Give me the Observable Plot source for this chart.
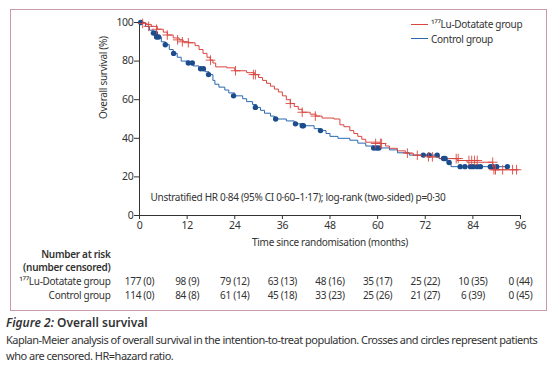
<!DOCTYPE html>
<html>
<head>
<meta charset="utf-8">
<script src="https://cdn.jsdelivr.net/npm/d3@7"></script>
<script src="https://cdn.jsdelivr.net/npm/@observablehq/plot@0.6"></script>
<style>
  body { margin: 0; background: #fff; font-family: "Noto Sans", sans-serif; color: #333; }
  #wrap { position: relative; width: 556px; height: 367px; }
  #frame { position: absolute; left: 10px; top: 9px; width: 537px; height: 302px; border: 1.3px solid #c89aaa; box-sizing: border-box; }
  #legend { position: absolute; left: 411px; top: 17px; font-size: 10px; letter-spacing: -0.3px; line-height: 14.5px; color: #333; }
  #legend .row { display: flex; align-items: center; }
  #legend .sw { width: 17px; height: 0; border-top: 1.2px solid; margin-right: 3px; }
  #caption { position: absolute; left: 6px; top: 315px; font-size: 11px; letter-spacing: -0.5px; line-height: 16.5px; color: #333; white-space: nowrap; }
  #caption .t { font-weight: 600; font-size: 12px; letter-spacing: 0; }
</style>
</head>
<body>
<div id="wrap">
  <div id="chart"></div>
  <div id="frame"></div>
  <div id="legend">
    <div class="row"><span class="sw" style="border-color:#d9463f"></span>¹⁷⁷Lu-Dotatate group</div>
    <div class="row"><span class="sw" style="border-color:#2a68b0"></span>Control group</div>
  </div>
  <div id="caption">
    <div class="t"><i>Figure 2:</i> Overall survival</div>
    <div>Kaplan-Meier analysis of overall survival in the intention-to-treat population. Crosses and circles represent patients</div>
    <div>who are censored. HR=hazard ratio.</div>
  </div>
</div>
<script>
// Kaplan-Meier step curves (months, % surviving)
const luTime = [0,1.5,3,4.5,6,7,8.5,10,11,12.5,14,15,16,17,17.8,18.5,19.2,22,24,27,29,30,31,32,33,34,35,36,37,38,39,40,41,43,44.5,46,49,50.5,51.5,53,54,55,56,57,60.5,62,63,65,67,69,73,75.5,80,82.5,89,95.5];
const luSurv = [100,99,98,96.5,95,93.5,92,91,90,89.5,88,86,84,82,80.5,79,77,76.5,75,74,73,71.5,70,68.5,67,65.5,64,62,60,58,56.5,55,53.5,52.5,51.5,50.5,50,47,46,44,42.5,41,39.5,38,37.3,36,34.8,33.5,32.3,31.2,30.4,29.5,28.5,27.6,23.7,23.7];
const ctlTime = [0,1.5,2.5,3.5,4.5,5.5,6.5,7.5,8.5,9.5,10.5,12.5,13.5,15,16.5,17.5,18.5,19,20,21.5,22.5,24,26,27,28.5,29.5,30.5,31.5,33,34,37,39,41,44,45.5,47,48,50,53,55,57,59,63,65,68,75.5,77.5,78.5,93];
const ctlSurv = [100,98,96,94.5,92.5,90,88.5,86,84,82,80,79,77.5,76,74.5,73,70,68,66.5,65,63.5,62,60.5,59,57.5,56,54.5,53,51.5,50,49,47.5,46.5,45,44,42.5,41,40,39,37.5,36,35,34,32.5,31.3,29.5,27.5,25.3,25.3];
// censored patients
const luCensT = [0.8,2.3,4.3,7,9.6,10.8,12.3,17.9,24.2,28.7,29.2,38,41,44.3,59.5,60.7,61,67.5,70,72.8,73.8,79.8,80.3,83,83.7,84.4,85.1,89,89.3,89.7,91.5,94,95];
const luCensS = [99.5,98,96.5,93.5,91,90,89.5,80.5,75,73,73,58,53.5,51.5,37.3,37.3,37.3,32.3,31.2,30.4,30.4,29.5,29.5,28.5,28.5,28.5,28.5,27.6,23.7,23.7,23.7,23.7,23.7];
const ctlCensT = [0.3,3.5,4,4.3,4.8,6.5,8.6,12.3,13.3,15.4,16.1,17.4,23.7,29.2,34.3,39.3,41,41.3,45.6,59,59.7,60.3,71.5,73,75,76.6,77,78,80.8,82,83.4,84.1,85.1,85.9,88.4,89,90,92.7];
const ctlCensS = [100,94.5,94.5,92.5,92.5,88.5,84,79,79,76,76,73,62,56,50,47.5,46.5,46.5,44,35,35,35,31.3,31.3,31.3,29.5,29.5,27.5,25.3,25.3,25.3,25.3,25.3,25.3,25.3,25.3,25.3,25.3];
// number at risk table
const riskTimes = [0,12,24,36,48,60,72,84,96];
const riskLu = ["177 (0)","98 (9)","79 (12)","63 (13)","48 (16)","35 (17)","25 (22)","10 (35)","0 (44)"];
const riskCtl = ["114 (0)","84 (8)","61 (14)","45 (18)","33 (23)","25 (26)","21 (27)","6 (39)","0 (45)"];
const xTicks = [0,12,24,36,48,60,72,84,96];
const yTicks = [0,20,40,60,80,100];

const RED = "#d9463f", BLUE = "#2a68b0", DOT = "#1d4c8c";

const lu = luTime.map((t,i)=>({t, s: luSurv[i]}));
const ctl = ctlTime.map((t,i)=>({t, s: ctlSurv[i]}));
const luC = luCensT.map((t,i)=>({t, s: luCensS[i]}));
const ctlC = ctlCensT.map((t,i)=>({t, s: ctlCensS[i]}));
const risk = riskTimes.map((t,i)=>({t, lu: riskLu[i], ctl: riskCtl[i]}));

const fs = 10;
const chart = Plot.plot({
  width: 556,
  height: 312,
  marginLeft: 139,
  marginRight: 36,
  marginTop: 22,
  marginBottom: 97,
  style: {fontFamily: "Noto Sans, sans-serif", fontSize: fs + "px", letterSpacing: "-0.3px", color: "#333", background: "transparent", overflow: "visible"},
  x: {domain: [0,96], ticks: xTicks, label: null},
  y: {domain: [0,100], ticks: yTicks, label: null},
  marks: [
    Plot.axisX({ticks: xTicks, tickSize: 4, tickPadding: 2, fontSize: 10.5, color: "#333"}),
    Plot.axisY({ticks: yTicks, tickSize: 5, tickPadding: 1, fontSize: 10.5, color: "#333"}),
    Plot.ruleX([0], {stroke: "#333", strokeWidth: 1}),
    Plot.ruleY([0], {stroke: "#333", strokeWidth: 1}),
    Plot.line(ctl, {x: "t", y: "s", curve: "step-after", stroke: BLUE, strokeWidth: 1}),
    Plot.line(lu, {x: "t", y: "s", curve: "step-after", stroke: RED, strokeWidth: 1}),
    Plot.dot(ctlC, {x: "t", y: "s", r: 2.7, fill: DOT, stroke: "none"}),
    Plot.dot(luC, {x: "t", y: "s", symbol: "plus", r: 3.2, stroke: RED, strokeWidth: 0.9}),
    Plot.text(["Unstratified HR 0·84 (95% CI 0·60–1·17); log-rank (two-sided) p=0·30"], {frameAnchor: "bottom-left", dx: 11, dy: -15, textAnchor: "start", fontSize: fs, fill: "#333"}),
    Plot.text(["Time since randomisation (months)"], {frameAnchor: "bottom", dy: 30, fontSize: fs, fill: "#333"}),
    Plot.text(["Overall survival (%)"], {frameAnchor: "left", dx: -36, rotate: -90, fontSize: fs, fill: "#333"}),
    Plot.text(["Number at risk"], {frameAnchor: "bottom-left", dx: -29, dy: 42, textAnchor: "end", fontWeight: 600, fontSize: fs, fill: "#333"}),
    Plot.text(["(number censored)"], {frameAnchor: "bottom-left", dx: -29, dy: 55, textAnchor: "end", fontWeight: 600, fontSize: fs, fill: "#333"}),
    Plot.text(["¹⁷⁷Lu-Dotatate group"], {frameAnchor: "bottom-left", dx: -29, dy: 69, textAnchor: "end", fontSize: fs, fill: "#333"}),
    Plot.text(["Control group"], {frameAnchor: "bottom-left", dx: -29, dy: 83, textAnchor: "end", fontSize: fs, fill: "#333"}),
    Plot.text(risk, {x: "t", frameAnchor: "bottom", dy: 69, text: "lu", fontSize: fs, fill: "#333"}),
    Plot.text(risk, {x: "t", frameAnchor: "bottom", dy: 83, text: "ctl", fontSize: fs, fill: "#333"})
  ]
});
document.getElementById("chart").appendChild(chart);
</script>
</body>
</html>
